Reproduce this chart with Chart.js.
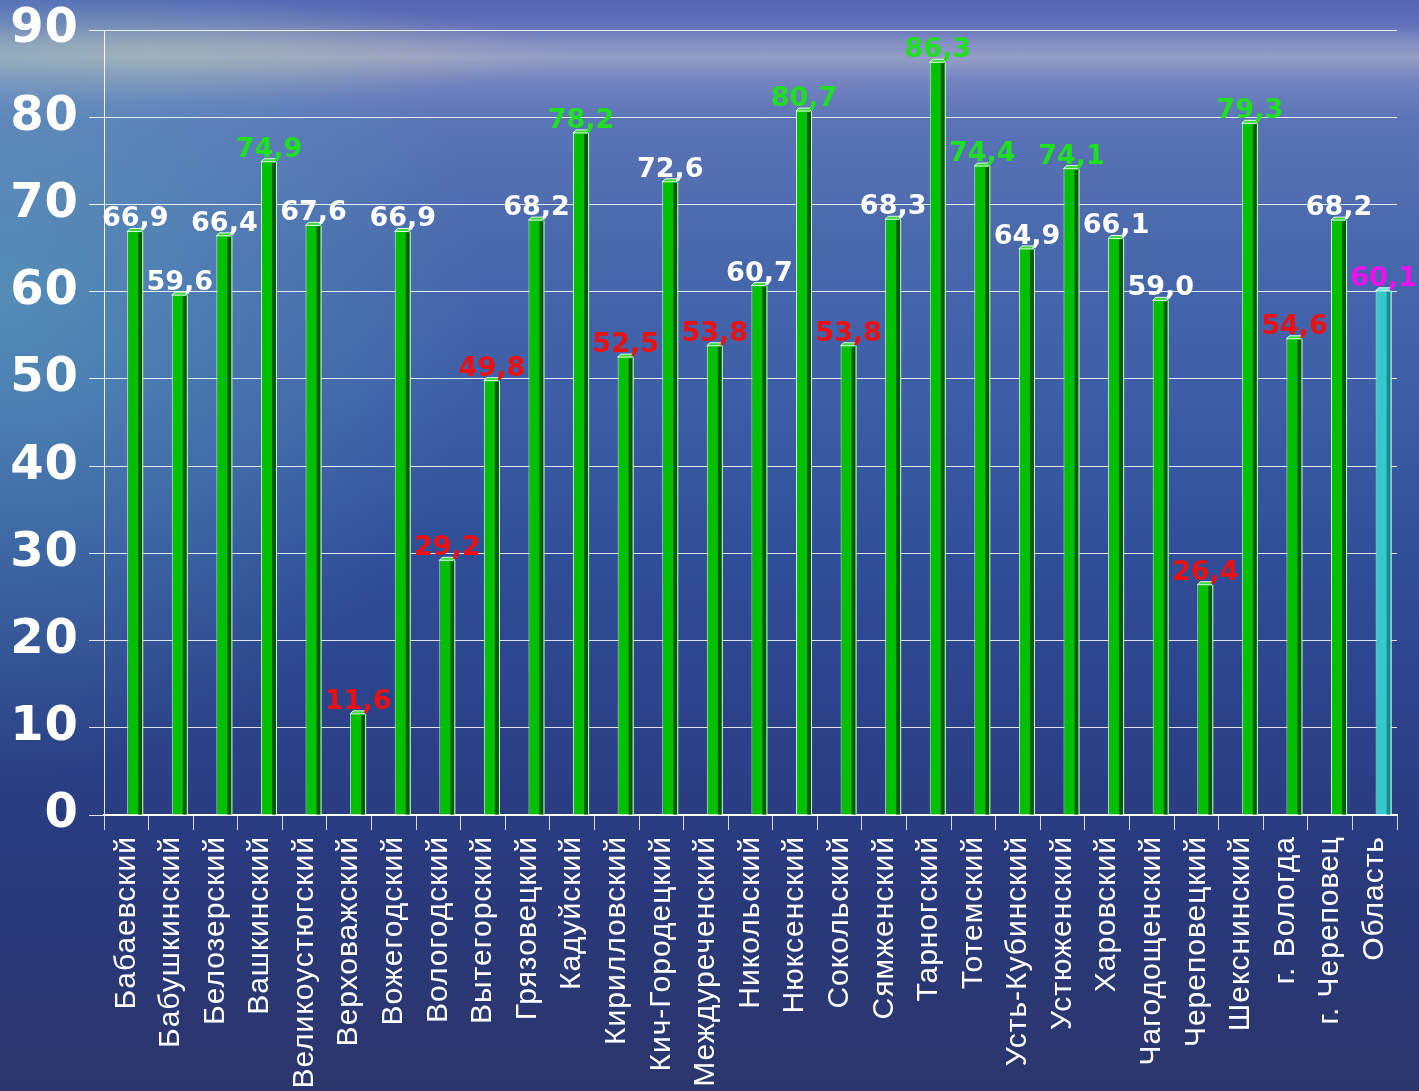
<!DOCTYPE html>
<html>
<head>
<meta charset="utf-8">
<script src="https://cdn.jsdelivr.net/npm/chart.js@4.4.0/dist/chart.umd.min.js"></script>
<style>
html, body { margin: 0; padding: 0; width: 1419px; height: 1091px; overflow: hidden; }
body {
  background:
    radial-gradient(ellipse 480px 480px at 0px 300px, rgba(100,180,195,0.5), rgba(100,180,195,0) 100%),
    radial-gradient(ellipse 420px 50px at 150px 52px, rgba(210,200,165,0.45), rgba(210,200,165,0) 100%),
    linear-gradient(to bottom, #5565b5 0px, #6070ba 24px, #8590c4 44px, #939dc6 58px, #7484c0 80px, #5a74b6 120px, #4868ac 250px, #3c5ea6 400px, #304e98 560px, #2b4289 720px, #29397c 880px, #2b366c 1091px);
}
#wrap { position: relative; width: 1419px; height: 1091px; }
canvas { display: block; }
</style>
</head>
<body>
<div id="wrap"><canvas id="chart" width="1419" height="1091"></canvas></div>
<script>
const categories = [
  "Бабаевский", "Бабушкинский", "Белозерский", "Вашкинский", "Великоустюгский",
  "Верховажский", "Вожегодский", "Вологодский", "Вытегорский", "Грязовецкий",
  "Кадуйский", "Кирилловский", "Кич-Городецкий", "Междуреченский", "Никольский",
  "Нюксенский", "Сокольский", "Сямженский", "Тарногский", "Тотемский",
  "Усть-Кубинский", "Устюженский", "Харовский", "Чагодощенский", "Череповецкий",
  "Шекснинский", "г. Вологда", "г. Череповец", "Область"
];
const values = [
  66.9, 59.6, 66.4, 74.9, 67.6,
  11.6, 66.9, 29.2, 49.8, 68.2,
  78.2, 52.5, 72.6, 53.8, 60.7,
  80.7, 53.8, 68.3, 86.3, 74.4,
  64.9, 74.1, 66.1, 59.0, 26.4,
  79.3, 54.6, 68.2, 60.1
];
// label group per bar: w = white, g = green, r = red, m = magenta
const labelGroups = [
  "w","w","w","g","w",
  "r","w","r","r","w",
  "g","r","w","r","w",
  "g","r","w","g","g",
  "w","g","w","w","r",
  "g","r","w","m"
];
const yTickValues = [0, 10, 20, 30, 40, 50, 60, 70, 80, 90];

const groupColor = { w: "#ffffff", g: "#1ee01e", r: "#ee1010", m: "#ee10ee" };
const barFill = values.map((v, i) => i === values.length - 1 ? "#36c8cc" : "#00c000");
const barSide = values.map((v, i) => i === values.length - 1 ? "#1a8c90" : "#045a04");
const barCap = values.map((v, i) => i === values.length - 1 ? "#6ee0e2" : "#3ad83a");

const fmt = v => v.toFixed(1).replace(".", ",");

const textSpacingPlugin = {
  id: "textSpacing",
  beforeDraw(chart) {
    try { chart.ctx.letterSpacing = "1px"; } catch (e) {}
  }
};

const bar3dPlugin = {
  id: "bar3d",
  afterDatasetsDraw(chart) {
    const ctx = chart.ctx;
    const meta = chart.getDatasetMeta(1);
    ctx.save();
    meta.data.forEach((bar, i) => {
      const p = bar.getProps(["x", "y", "width", "base"], true);
      const left = p.x - p.width / 2;
      const right = p.x + p.width / 2;
      ctx.fillStyle = barSide[i];
      ctx.fillRect(right - 5, p.y + 1, 4, p.base - p.y - 1);
      ctx.strokeStyle = "rgba(225,255,225,0.9)";
      ctx.lineWidth = 1;
      ctx.beginPath();
      ctx.moveTo(right - 0.5, p.y);
      ctx.lineTo(right - 0.5, p.base);
      ctx.stroke();
      ctx.fillStyle = barCap[i];
      ctx.beginPath();
      ctx.moveTo(left, p.y);
      ctx.lineTo(left + 3, p.y - 3);
      ctx.lineTo(right + 1, p.y - 3);
      ctx.lineTo(right - 2, p.y);
      ctx.closePath();
      ctx.fill();
      ctx.strokeStyle = "rgba(235,255,235,0.95)";
      ctx.stroke();
    });
    ctx.restore();
  }
};

const valueLabelPlugin = {
  id: "valueLabels",
  afterDatasetsDraw(chart) {
    const ctx = chart.ctx;
    const meta = chart.getDatasetMeta(1);
    ctx.save();
    try { ctx.letterSpacing = "0px"; } catch (e) {}
    ctx.font = "bold 27px 'DejaVu Sans'";
    ctx.textAlign = "center";
    ctx.textBaseline = "alphabetic";
    meta.data.forEach((bar, i) => {
      ctx.fillStyle = groupColor[labelGroups[i]];
      ctx.fillText(fmt(values[i]), bar.x, bar.y - 5);
    });
    ctx.restore();
  }
};

new Chart(document.getElementById("chart"), {
  type: "bar",
  data: {
    labels: categories,
    datasets: [
      { label: "spacer", data: categories.map(() => null), backgroundColor: "rgba(0,0,0,0)" },
      {
        label: "Значение",
        data: values,
        backgroundColor: barFill,
        borderColor: "rgba(225,255,225,0.9)",
        borderWidth: { left: 1, right: 0, top: 0, bottom: 0 },
        borderSkipped: false
      }
    ]
  },
  options: {
    responsive: false,
    animation: false,
    devicePixelRatio: 1,
    categoryPercentage: 0.8,
    barPercentage: 0.9,
    layout: { padding: { top: 30, right: 22, left: 0, bottom: 0 } },
    plugins: { legend: { display: false }, tooltip: { enabled: false } },
    scales: {
      x: {
        grid: { display: true, drawOnChartArea: false, tickLength: 15, color: "rgba(255,255,255,0.8)", lineWidth: 1, offset: true },
        border: { display: true, color: "#ffffff", width: 2 },
        ticks: {
          autoSkip: false, maxRotation: 90, minRotation: 90, padding: 6,
          color: "#ffffff", font: { family: "'Liberation Sans', Arial, sans-serif", size: 30 }
        },
        afterFit(s) { s.height = 276; s.paddingLeft = 0; s.paddingRight = 0; }
      },
      y: {
        min: 0, max: 90,
        afterBuildTicks(s) { s.ticks = yTickValues.map(v => ({ value: v })); },
        grid: { color: "rgba(255,255,255,0.85)", lineWidth: 1, tickLength: 15 },
        border: { display: true, color: "rgba(255,255,255,0.9)", width: 1 },
        ticks: {
          padding: 10, color: "#ffffff",
          font: { family: "'DejaVu Sans', sans-serif", size: 48, weight: "bold" }
        },
        afterFit(s) { s.width = 104; s.paddingTop = 0; s.paddingBottom = 0; }
      }
    }
  },
  plugins: [textSpacingPlugin, bar3dPlugin, valueLabelPlugin]
});
</script>
</body>
</html>
